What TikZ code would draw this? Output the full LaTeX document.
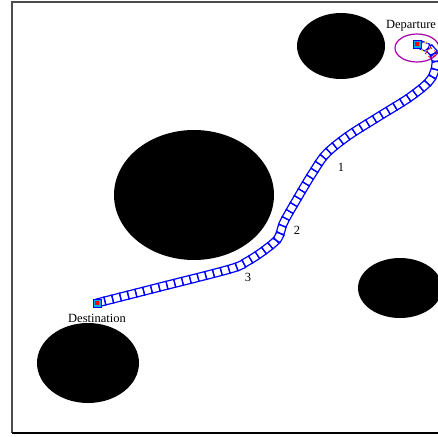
\documentclass[tikz,border=0pt]{standalone}
\usepackage{fontspec}
\setmainfont{Liberation Serif}
\usetikzlibrary{positioning,shapes.geometric,decorations.markings}

\begin{document}
\begin{tikzpicture}[
	x=1pt, y=-1pt,
	font=\fontsize{12.5}{14}\selectfont,
	obstacle/.style={
		ellipse,
		fill=black,
		inner sep=0pt,
	},
	endbox/.style={
		draw=blue,
		fill=cyan,
		line width=0.8pt,
		minimum size=8pt,
		inner sep=0pt,
	},
	enddot/.style={
		fill=red,
		minimum size=3.5pt,
		inner sep=0pt,
	},
	trial/.style={
		draw=yellow!90!orange,
		dashed,
		line width=0.8pt,
		minimum size=8pt,
		inner sep=0pt,
	},
	chain/.style={
		postaction={decorate, decoration={markings,
			mark=between positions 8pt and -4pt step 8pt with {
				\draw[blue, line width=1.2pt] (-4,-4) rectangle (4,4);
			}}},
	},
	lbl/.style={inner sep=1pt},
]
\useasboundingbox (0,0) rectangle (438,436);

% Rahmen
\draw[black!70, line width=1.2pt] (438,2) -- (12,2) -- (12,433);
\draw[black, line width=2pt] (12,433) -- (438,433);

% Hindernisse
\node[obstacle, minimum width=88pt, minimum height=66pt] (obsTop) at (341,46) {};
\node[obstacle, minimum width=160pt, minimum height=130pt] (obsBig) at (194,195) {};
\node[obstacle, minimum width=84pt, minimum height=60pt] (obsRight) at (400,288) {};
\node[obstacle, minimum width=102pt, minimum height=80pt] (obsLow) at (88,363) {};

% Startbereich
\node[draw=violet!70!magenta, line width=1.2pt, ellipse, minimum width=44pt, minimum height=28pt] (zone) at (417,48) {};

% Pfad aus Kettengliedern
\path[chain] plot[smooth, tension=0.55] coordinates {
	(417,44) (431,50) (436,63) (430,80) (410,97) (378,117) (348,136)
	(326,154) (312,174) (297,199) (284,222) (278,238) (266,249)
	(248,261) (230,269) (160,287) (97,303)};

% Start und Ziel
\node[trial, rotate=25] (try1) at (425,47) {};
\node[trial, draw=red, rotate=50] (try2) at (431,53) {};
\node[endbox] (dep) at (417,44) {};
\node[enddot] (depdot) at (dep) {};
\node[endbox] (dest) at (97,303) {};
\node[enddot] (destdot) at (dest) {};
\node[above=5pt of dep, xshift=-6pt] (depText) {Departure};
\node[below=3pt of dest] (destText) {Destination};

% Abschnittsnummern
\node[lbl] (lbl1) at (341,167) {1};
\node[lbl] (lbl2) at (297,230) {2};
\node[lbl] (lbl3) at (248,277) {3};

\end{tikzpicture}
\end{document}
